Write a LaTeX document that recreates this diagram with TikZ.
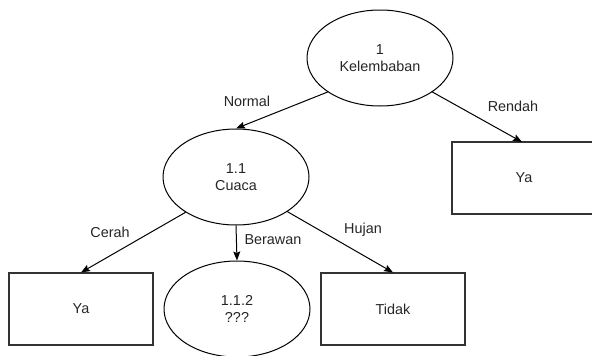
\documentclass[tikz,border=0pt]{standalone}
\usepackage{fontspec}
\setmainfont{Liberation Sans}
\usetikzlibrary{shapes.geometric,arrows.meta}
\begin{document}
\begin{tikzpicture}[x=1pt,y=-1pt,
  every node/.style={font=\fontsize{14.4}{17}\selectfont, text=black!85},
  oval/.style={draw=black, line width=1pt, ellipse, minimum width=146pt, minimum height=96pt, inner sep=0pt, align=center},
  leaf/.style={draw=black!80, line width=1.1pt, rectangle, minimum width=144pt, minimum height=72pt, inner sep=0pt},
  edge/.style={draw=black, line width=1pt, -{Stealth[length=9pt,width=7pt,inset=1.5pt]}},
  lbl/.style={inner sep=0pt}]
\useasboundingbox (0,0) rectangle (592,356);
\fill[white] (0,0) rectangle (592,356);
\node[oval] (k) at (380,58) {1\\Kelembaban};
\node[oval] (c) at (236,177) {1.1\\Cuaca};
\node[leaf, minimum width=150pt] (yr) at (527,178) {};
\node (yrt) at (524,178) {Ya};
\node[leaf] (yl) at (81,309) {Ya};
\node[oval] (q) at (237,309) {1.1.2\\???};
\node[leaf] (t) at (393,309) {Tidak};
\coordinate (yrn) at (522,142);
\draw[edge] (k.213) -- (c.north);
\draw[edge] (k.327) -- (yrn);
\draw[edge] (c.215) -- (yl.north);
\draw[edge] (c.south) -- (q.north);
\draw[edge] (c.326) -- (t.north);
\node[lbl] (ln) at (247,101) {Normal};
\node[lbl] (lr) at (513,106) {Rendah};
\node[lbl] (lc) at (110,232) {Cerah};
\node[lbl] (lb) at (273,240) {Berawan};
\node[lbl] (lh) at (363,230) {Hujan};
\end{tikzpicture}
\end{document}
